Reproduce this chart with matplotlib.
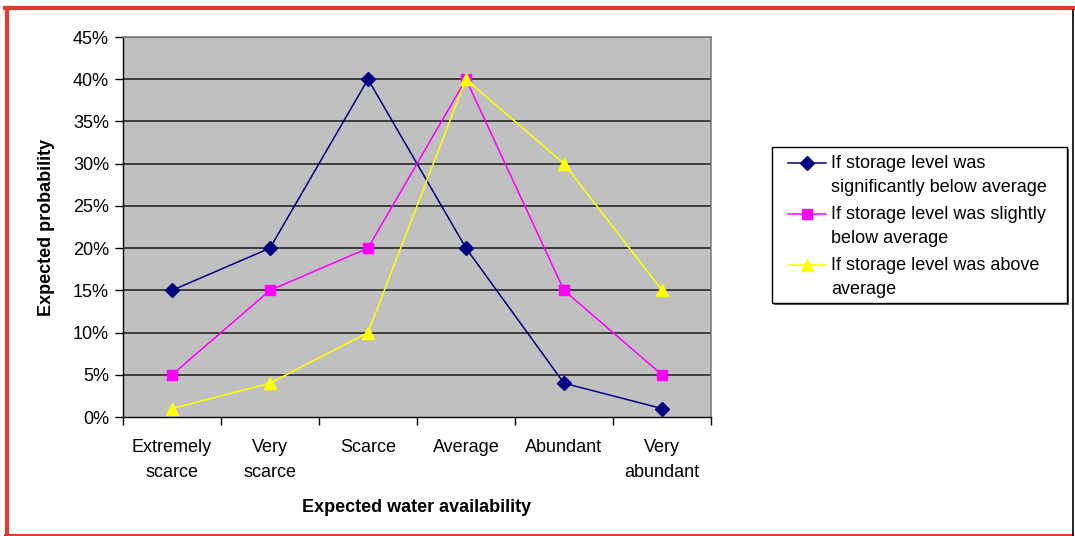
import matplotlib
matplotlib.use("Agg")
import matplotlib.pyplot as plt
from matplotlib.patches import Rectangle
from matplotlib.lines import Line2D

categories = ["Extremely\nscarce", "Very\nscarce", "Scarce", "Average", "Abundant", "Very\nabundant"]
series_names = [
    "If storage level was\nsignificantly below average",
    "If storage level was slightly\nbelow average",
    "If storage level was above\naverage",
]
sig_below = [15, 20, 40, 20, 4, 1]
slight_below = [5, 15, 20, 40, 15, 5]
above = [1, 4, 10, 40, 30, 15]
y_ticks = [0, 5, 10, 15, 20, 25, 30, 35, 40, 45]

plt.rcParams["font.family"] = ["Liberation Sans", "DejaVu Sans"]
FS = 13

fig = plt.figure(figsize=(10.75, 5.36), dpi=100)
ax = fig.add_axes([123 / 1075, 1 - 417 / 536, 588 / 1075, 380 / 536])
ax.set_facecolor("#C0C0C0")

x = list(range(len(categories)))
styles = [
    (sig_below, "#000080", "D", 7),
    (slight_below, "#FF00FF", "s", 7),
    (above, "#FFFF00", "^", 8.5),
]
for (vals, color, marker, ms), name in zip(styles, series_names):
    ax.plot(x, vals, color=color, marker=marker, markersize=ms, lw=1.1,
            markeredgecolor=color, markerfacecolor=color, zorder=3, label=name)

ax.set_xlim(-0.5, len(categories) - 0.5)
ax.set_ylim(0, 45)
ax.set_yticks(y_ticks)
ax.set_yticklabels([f"{v}%" for v in y_ticks], fontsize=FS)
for v in y_ticks[1:]:
    ax.axhline(v, color="#1a1a1a", lw=1.1, zorder=1)

ax.set_xticks([i - 0.5 for i in range(len(categories) + 1)])
ax.set_xticklabels([])
ax.set_xticks(x, minor=True)
ax.set_xticklabels(categories, minor=True, fontsize=FS, linespacing=1.65)
ax.tick_params(axis="x", which="minor", length=0, pad=15.5)
ax.tick_params(axis="x", which="major", length=6, width=1, direction="out", color="black")
ax.tick_params(axis="y", length=6, width=1, direction="out", color="black", pad=4)

for side in ("left", "bottom"):
    ax.spines[side].set_color("black")
    ax.spines[side].set_linewidth(1)
for side in ("top", "right"):
    ax.spines[side].set_color("#808080")
    ax.spines[side].set_linewidth(1.2)

ax.set_xlabel("Expected water availability", fontsize=FS, fontweight="bold", labelpad=13)
ax.set_ylabel("Expected probability", fontsize=FS, fontweight="bold", labelpad=13)

# legend box with a drop shadow
lx0, ly0, lw, lh = 772 / 1075, 1 - 303 / 536, 295 / 1075, 156 / 536
fig.patches.append(Rectangle((lx0 + 2 / 1075, ly0 - 2 / 536), lw, lh, transform=fig.transFigure,
                             facecolor="#606060", edgecolor="none", zorder=1))
fig.patches.append(Rectangle((lx0, ly0), lw, lh, transform=fig.transFigure,
                             facecolor="white", edgecolor="black", lw=1, zorder=2))
entry_centers = [163, 214, 265]
for (vals, color, marker, ms), name, yc in zip(styles, series_names, entry_centers):
    yline = 1 - yc / 536
    fig.add_artist(Line2D([788 / 1075, 826 / 1075], [yline, yline], transform=fig.transFigure,
                          color=color, lw=1.1, zorder=3))
    fig.add_artist(Line2D([807 / 1075], [yline], transform=fig.transFigure, marker=marker,
                          markersize=ms, color=color, zorder=3))
    fig.text(831 / 1075, 1 - (yc - 8) / 536, name, fontsize=FS, va="top", ha="left",
             linespacing=1.55, zorder=3)

# outer frame
fig.add_artist(Line2D([7 / 1075, 7 / 1075], [1 - 8 / 536, 1 - 535 / 536], transform=fig.transFigure,
                      color="#E8392F", lw=3))
fig.add_artist(Line2D([5 / 1075, 1], [1 - 8 / 536, 1 - 8 / 536], transform=fig.transFigure,
                      color="#E8392F", lw=3))
fig.add_artist(Line2D([5 / 1075, 1073 / 1075], [1 - 535 / 536, 1 - 535 / 536], transform=fig.transFigure,
                      color="#E8392F", lw=1.5))
fig.add_artist(Line2D([1073 / 1075, 1073 / 1075], [1 - 10 / 536, 1 - 535 / 536], transform=fig.transFigure,
                      color="black", lw=1.2))

fig.savefig("out.png", dpi=100)
